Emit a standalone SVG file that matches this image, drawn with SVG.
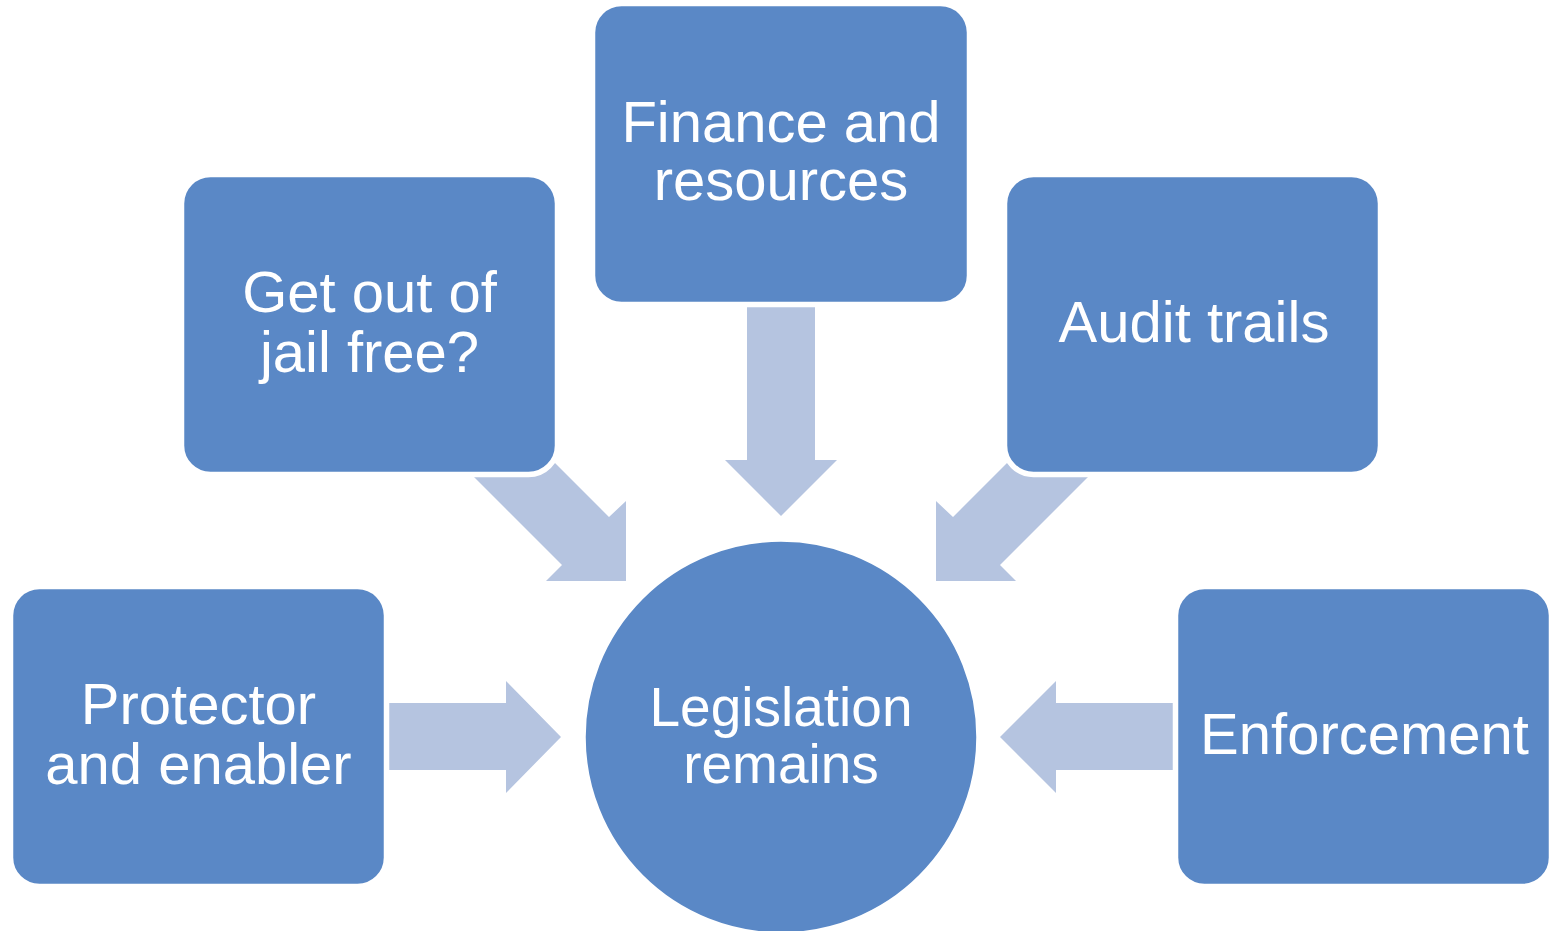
<svg xmlns="http://www.w3.org/2000/svg" width="1557" height="931" viewBox="0 0 1557 931">
  <style>
    .arrow { fill: #B5C4E0; stroke: none; }
    .node { fill: #5A88C6; stroke: #FFFFFF; stroke-width: 5.5; }
    .label { fill: #FFFFFF; font-family: "Liberation Sans", Arial, sans-serif; font-size: 58px; text-anchor: middle; }
    .center { font-size: 55px; }
  </style>
  <rect x="0" y="0" width="1557" height="931" fill="#FFFFFF"/>
  <g id="connectors">
    <polygon class="arrow" points="747,295 815,295 815,460 837,460 781,516 725,460 747,460"/>
    <polygon class="arrow" points="463.5,466.5 562,565 546,581 626,581 626,501 609,517 511,419"/>
    <polygon class="arrow" points="1098.5,466.5 1000,565 1016,581 936,581 936,501 953,517 1051,419"/>
    <polygon class="arrow" points="375,703 506,703 506,681 561,737 506,793 506,770 375,770"/>
    <polygon class="arrow" points="1186,703 1056,703 1056,681 1000,737 1056,793 1056,770 1186,770"/>
  </g>
  <g id="node-finance">
    <rect class="node" x="592.5" y="3.5" width="377" height="301" rx="29" ry="29"/>
    <text class="label" x="781" y="142">Finance and</text>
    <text class="label" x="781" y="200">resources</text>
  </g>
  <g id="node-jail">
    <rect class="node" x="181.5" y="174.5" width="376" height="300" rx="29" ry="29"/>
    <text class="label" x="369.5" y="312">Get out of</text>
    <text class="label" x="369.5" y="372">jail free?</text>
  </g>
  <g id="node-audit">
    <rect class="node" x="1004.5" y="174.5" width="376" height="300" rx="29" ry="29"/>
    <text class="label" x="1194" y="342">Audit trails</text>
  </g>
  <g id="node-protector">
    <rect class="node" x="10.5" y="586.5" width="376" height="300" rx="29" ry="29"/>
    <text class="label" x="198.5" y="724">Protector</text>
    <text class="label" x="198.5" y="784">and enabler</text>
  </g>
  <g id="node-enforcement">
    <rect class="node" x="1175.5" y="586.5" width="376" height="300" rx="29" ry="29"/>
    <text class="label" x="1364.5" y="754">Enforcement</text>
  </g>
  <g id="node-legislation">
    <circle class="node" cx="781" cy="737" r="198"/>
    <text class="label center" x="781" y="726">Legislation</text>
    <text class="label center" x="781" y="783">remains</text>
  </g>
</svg>
